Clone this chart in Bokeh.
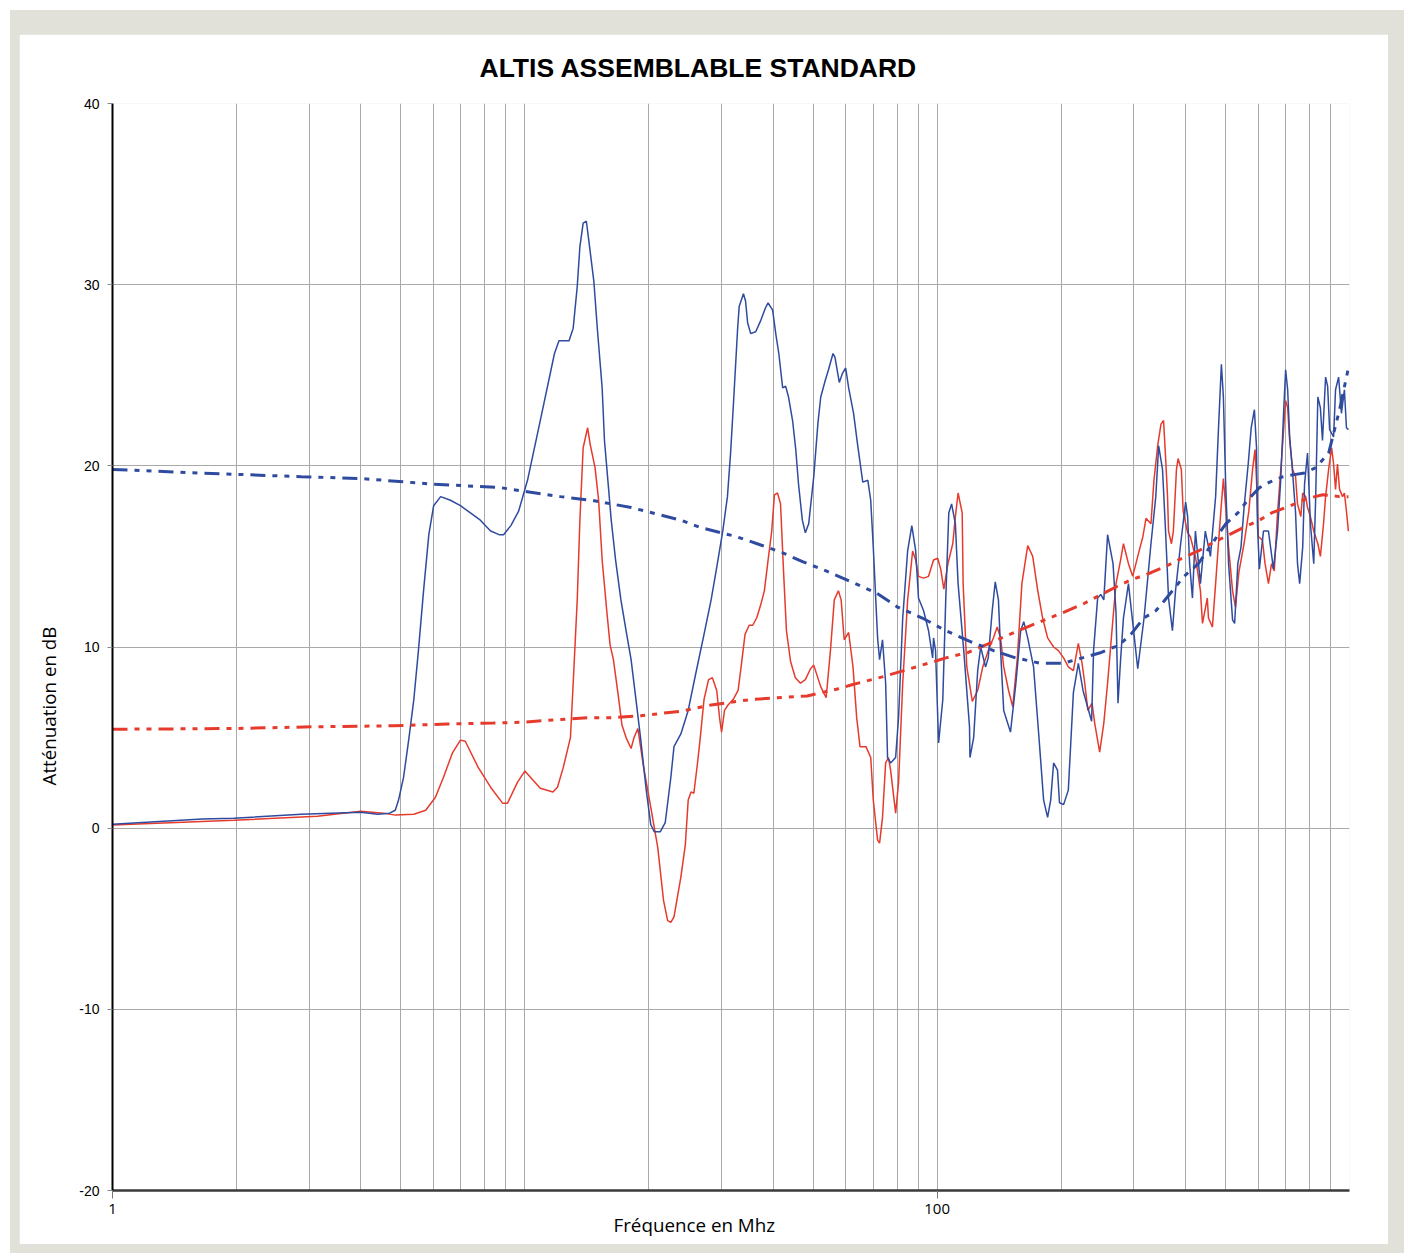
import math
from bokeh.plotting import figure
from bokeh.models import Range1d, FixedTicker, Title
from bokeh.layouts import column
from bokeh.embed import file_html
from bokeh.resources import INLINE

# ---------------- data (frequency in MHz, attenuation in dB) ----------------
blue_freq = [1, 1.65, 1.97, 2.87, 4.0, 4.4, 4.7, 4.85, 4.94, 5.08, 5.23, 5.38, 5.52, 5.68, 5.85,
             6.01, 6.25, 6.6, 6.98, 7.38, 7.8, 8.26, 8.66, 8.88, 9.25, 9.66, 10.15, 10.9, 11.8, 12.1,
             12.8, 13.1, 13.4, 13.6, 13.85, 14.1, 14.3, 14.7, 15.0, 15.4, 15.6, 15.9, 16.2, 16.6, 17.1,
             17.6, 18.1, 18.6, 19.1, 19.7, 20.2, 20.6, 21.3, 21.9, 22.6, 23.0, 23.9, 24.9, 25.9, 27.2,
             28.3, 29.2, 30.2, 31.0, 31.55, 32.07, 32.4, 32.8, 33.1, 33.9, 34.3, 34.7, 35.3, 36.3, 37.3,
             38.3, 38.9, 39.9, 40.6, 41.3, 42.2, 42.9, 43.6, 44.6, 45.4, 46.1, 47.1, 47.9, 48.8, 50.2,
             51.4, 52.2, 53.5, 54.5, 55.9, 56.5, 57.9, 58.9, 60.0, 61.0, 62.7, 64.1, 66.0, 67.9, 69.0,
             70.0, 71.7, 72.5, 73.7, 75.0, 75.8, 77.1, 79.3, 80.6, 82.5, 84.8, 86.8, 88.7, 90.1, 92.7,
             95.3, 97.5, 98.0, 99.1, 100.8, 103.2, 104.9, 106.7, 108.4, 110.7, 112.4, 116.0, 119.8, 120.1,
             122.6, 125.4, 127.5, 131.0, 133.0, 136.0, 138.3, 140.8, 142.5, 145.0, 150.6, 155.2, 159.4,
             162.2, 165.8, 171.3, 176.3, 181.2, 185.3, 188.5, 191.6, 195.8, 198.0, 202.6, 208.0, 214.0,
             220.0, 225.8, 231.6, 236.9, 239.5, 245.0, 249.3, 253.6, 259.0, 267.0, 271.5, 274.5, 278.5,
             283.0, 291.0, 299.5, 306.5, 317.5, 330.0, 339.0, 344.5, 352.0, 358.0, 364.0, 372.0, 378.5,
             389.5, 400.5, 405.0, 409.5, 416.0, 423.0, 435.0, 447.0, 460.0, 473.5, 481.0, 489.0, 494.5,
             500.5, 509.0, 520.5, 526.5, 536.0, 545.5, 555.0, 568.0, 577.5, 588.0, 595.0, 598.0, 604.5,
             618.5, 636.0, 654.0, 669.0, 681.0, 692.0, 700.0, 708.0, 716.0, 728.0, 740.0, 748.0, 757.0,
             770.0, 778.0, 791.0, 804.0, 819.0, 828.0, 838.0, 850.0, 860.0, 875.0, 885.0, 895.0, 915.0,
             925.0, 941.0, 956.0, 972.0, 983.0, 994.0]
blue_db = [0.22, 0.50, 0.55, 0.77, 0.88, 0.77, 0.83, 0.99, 1.55, 2.8, 4.9, 7.1, 9.8, 13.1, 16.2,
           17.8, 18.3, 18.1, 17.8, 17.4, 17.0, 16.4, 16.2, 16.2, 16.7, 17.5, 19.2, 22.5, 26.2, 26.9,
           26.9, 27.6, 29.9, 32.1, 33.4, 33.5, 32.4, 30.2, 27.5, 24.3, 21.4, 19.2, 17.0, 14.8, 12.6,
           10.9, 9.3, 7.1, 4.9, 2.1, 0.2, -0.2, -0.2, 0.3, 2.8, 4.5, 5.2, 6.5, 8.4, 10.7,
           12.6, 14.4, 16.4, 18.3, 20.7, 23.5, 25.3, 27.5, 28.8, 29.5, 29.1, 27.9, 27.3, 27.4, 28.0,
           28.7, 29.0, 28.6, 27.3, 26.2, 24.3, 24.4, 23.8, 22.5, 20.9, 19.0, 17.0, 16.3, 16.8, 19.4,
           22.4, 23.8, 24.7, 25.3, 26.2, 26.0, 24.6, 25.1, 25.4, 24.3, 22.9, 21.2, 19.1, 19.2, 18.1,
           15.5, 10.5, 9.3, 10.4, 8.0, 3.9, 3.6, 3.9, 6.1, 11.6, 15.3, 16.7, 15.3, 12.7, 12.0,
           10.9, 9.4, 10.5, 9.8, 4.7, 7.1, 12.6, 17.4, 17.9, 16.8, 13.5, 9.8, 5.6, 3.9,
           5.0, 8.7, 10.0, 8.9, 9.4, 12.0, 13.6, 12.6, 9.8, 6.5, 5.3, 8.0, 10.9,
           11.4, 10.5, 8.9, 5.2, 1.55, 0.6, 1.55, 3.6, 3.2, 1.4, 1.3, 2.1, 7.5,
           9.1, 7.6, 6.7, 5.9, 9.8, 12.7, 12.9, 12.6, 16.2, 14.6, 11.9, 6.9, 9.3,
           11.6, 13.5, 10.9, 8.8, 11.6, 15.7, 18.3, 21.1, 19.8, 16.4, 12.7, 10.9, 13.1,
           15.7, 18.0, 17.2, 14.6, 12.7, 16.4, 13.5, 16.4, 15.0, 18.3, 22.0, 25.6, 23.8,
           19.2, 14.6, 11.5, 11.3, 14.6, 15.5, 17.7, 20.1, 22.1, 23.1, 21.0, 16.8, 14.3,
           16.4, 16.4, 14.3, 16.4, 19.2, 22.9, 25.3, 24.2, 21.6, 19.6, 17.4, 14.6, 13.5,
           15.5, 19.0, 20.7, 16.8, 14.6, 18.3, 23.8, 23.2, 21.4, 24.9, 24.4, 22.0, 21.6,
           24.2, 24.9, 22.9, 24.2, 22.1, 22.0]

red_freq = [1, 1.97, 3.14, 4.0, 4.54, 4.85, 5.38, 5.75, 6.07, 6.35, 6.67, 6.98, 7.17, 7.7, 8.26,
            8.83, 9.08, 9.6, 10.0, 10.9, 11.7, 12.0, 12.4, 12.9, 13.1, 13.4, 13.6, 13.85, 14.2, 14.4,
            14.8, 15.1, 15.4, 15.8, 16.1, 16.4, 16.9, 17.2, 17.6, 18.1, 18.4, 18.8, 19.4, 20.2, 21.0,
            21.7, 22.2, 22.6, 23.0, 23.9, 24.5, 24.9, 25.3, 25.7, 26.2, 26.6, 27.2, 27.9, 28.5, 29.2,
            29.7, 30.0, 30.5, 31.1, 32.0, 32.9, 33.5, 34.2, 35.0, 35.7, 36.5, 37.3, 38.1, 38.9, 39.7,
            40.3, 41.0, 41.7, 42.4, 43.1, 44.1, 45.3, 46.6, 47.9, 49.3, 50.2, 52.2, 53.8, 55.1, 56.3,
            57.6, 58.5, 59.5, 61.0, 62.5, 63.8, 65.0, 67.2, 69.0, 70.0, 71.7, 72.5, 73.7, 75.0, 76.2,
            77.1, 79.3, 80.6, 82.5, 84.8, 87.2, 88.7, 90.1, 92.7, 95.3, 98.0, 100.3, 102.0, 103.8, 106.2,
            109.1, 110.7, 112.4, 115.0, 115.6, 118.0, 121.7, 125.4, 129.0, 133.0, 136.9, 139.8, 142.5,
            145.0, 149.0, 152.5, 156.5, 160.5, 165.8, 170.5, 175.4, 180.2, 185.3, 191.6, 196.8, 202.6,
            208.0, 214.0, 220.0, 224.6, 228.0, 232.0, 237.5, 241.0, 247.8, 253.6, 259.0, 267.0, 271.5,
            278.5, 283.0, 291.0, 298.0, 306.5, 315.5, 321.0, 330.0, 335.5, 343.0, 349.0, 354.0, 358.0,
            362.0, 364.0, 370.0, 374.0, 380.5, 384.0, 391.0, 395.0, 405.0, 411.0, 423.0, 435.0, 440.0,
            452.0, 455.0, 465.0, 473.5, 481.0, 489.0, 494.5, 503.0, 509.0, 520.5, 529.0, 539.0, 555.0,
            570.0, 582.0, 590.0, 595.0, 601.0, 615.0, 624.0, 636.0, 647.0, 657.0, 669.0, 685.0, 700.0,
            708.0, 716.0, 728.0, 740.0, 748.0, 762.0, 770.0, 783.0, 791.0, 804.0, 819.0, 838.0, 850.0,
            865.0, 875.0, 890.0, 905.0, 915.0, 925.0, 935.0, 946.0, 962.0, 972.0, 983.0, 994.0]
red_db = [0.17, 0.44, 0.66, 0.94, 0.83, 0.72, 0.77, 0.99, 1.71, 2.81, 4.14, 4.86, 4.8, 3.37, 2.26,
          1.38, 1.38, 2.54, 3.15, 2.2, 2.0, 2.26, 3.37, 5.0, 8.0, 12.6, 17.0, 21.0, 22.1, 21.2,
          19.9, 18.1, 14.8, 12.0, 10.1, 9.3, 7.1, 5.7, 5.0, 4.4, 5.0, 5.5, 3.4, 1.16, -1.05,
          -4.0, -5.1, -5.2, -4.9, -2.7, -0.94, 1.55, 2.0, 1.93, 3.5, 4.86, 7.1, 8.2, 8.3, 7.6,
          6.0, 5.3, 6.5, 6.8, 7.1, 7.6, 9.0, 10.7, 11.2, 11.2, 11.6, 12.3, 13.1, 14.8, 16.4,
          18.4, 18.5, 17.9, 14.2, 10.9, 9.2, 8.3, 8.0, 8.2, 8.8, 9.0, 7.8, 7.2, 9.8, 12.6,
          13.1, 12.6, 10.4, 10.8, 8.9, 6.1, 4.5, 4.5, 3.9, 1.55, -0.66, -0.83, 0.6, 3.6, 3.9,
          3.2, 0.83, 2.5, 8.0, 12.6, 15.3, 14.8, 13.9, 13.8, 13.9, 14.8, 14.9, 14.3, 13.2, 14.6,
          15.7, 17.2, 18.5, 17.4, 13.5, 8.9, 7.0, 7.6, 8.9, 9.8, 10.5, 11.1, 10.5,
          8.9, 7.6, 6.7, 9.4, 13.5, 15.6, 15.0, 13.1, 11.6, 10.5, 10.0, 9.8, 9.4,
          8.9, 8.7, 10.2, 9.1, 8.0, 6.5, 6.9, 5.8, 4.2, 5.8, 8.0, 11.6, 13.5,
          14.8, 15.7, 14.6, 13.9, 15.0, 16.1, 17.1, 16.8, 19.2, 21.2, 22.3, 22.5, 20.5,
          18.3, 16.4, 15.7, 16.4, 19.8, 20.4, 19.8, 17.5, 16.3, 16.1, 15.0, 13.1, 11.3,
          12.7, 11.6, 11.1, 13.5, 15.7, 17.9, 19.3, 17.2, 15.5, 13.1, 12.2, 14.1, 15.7,
          17.5, 19.8, 20.9, 19.2, 16.1, 15.9, 14.6, 13.5, 14.6, 14.2, 17.4, 20.5, 23.6,
          23.2, 21.4, 19.8, 19.4, 17.9, 17.2, 18.5, 18.3, 17.7, 17.2, 16.4, 15.7, 15.0,
          16.8, 18.3, 19.8, 21.0, 20.1, 18.7, 20.1, 18.7, 18.3, 18.5, 17.5, 16.4]

blue_trend_freq = [1, 1.65, 2.87, 4.0, 5.9, 8.7, 12.2, 14.5, 18.1, 23.9, 26.6, 32.5, 36.6, 42.2, 47.3,
                   53.8, 61.8, 71.0, 80.2, 92.0, 105.0, 120.4, 137.0, 155.0, 178.0, 202.0, 225.0, 250.0,
                   276.0, 295.0, 317.0, 339.0, 354.0, 397.0, 430.0, 501.0, 536.0, 566.0, 605.0, 640.0,
                   690.0, 728.0, 778.0, 828.0, 890.0, 946.0, 977.0, 994.0]
blue_trend_db = [19.8, 19.6, 19.4, 19.3, 19.0, 18.8, 18.3, 18.1, 17.7, 17.0, 16.6, 16.1, 15.7, 15.2, 14.7,
                 14.2, 13.6, 13.0, 12.2, 11.6, 10.9, 10.3, 9.8, 9.4, 9.1, 9.1, 9.4, 9.7,
                 10.1, 10.7, 11.6, 12.0, 12.5, 13.9, 14.6, 16.8, 17.4, 18.1, 18.8, 19.1,
                 19.4, 19.5, 19.6, 19.9, 20.7, 23.1, 24.6, 25.4]

red_trend_freq = [1, 1.97, 3.14, 4.8, 6.5, 8.4, 9.9, 12.2, 14.2, 16.4, 19.1, 21.7, 23.9, 28.3, 35.3,
                  48.4, 57.6, 61.8, 75.0, 86.0, 105.0, 119.0, 137.0, 150.0, 178.0, 202.0, 227.0, 250.0,
                  276.0, 295.0, 330.0, 362.0, 384.0, 430.0, 470.0, 501.0, 554.0, 605.0, 647.0, 720.0,
                  791.0, 861.0, 946.0, 994.0]
red_trend_db = [5.46, 5.5, 5.6, 5.65, 5.75, 5.8, 5.85, 6.0, 6.1, 6.1, 6.2, 6.35, 6.45, 6.8, 7.1,
                7.3, 7.7, 7.9, 8.4, 8.8, 9.4, 9.7, 10.3, 10.7, 11.4, 11.9, 12.4, 12.9,
                13.4, 13.7, 14.1, 14.5, 14.8, 15.3, 15.8, 16.1, 16.6, 17.0, 17.4, 17.8,
                18.2, 18.4, 18.3, 18.3]

x_major_ticks = [1, 100]
x_minor_ticks = [2, 3, 4, 5, 6, 7, 8, 9, 10, 20, 30, 40, 50, 60, 70, 80, 90,
                 200, 300, 400, 500, 600, 700, 800, 900, 1000]
y_ticks = [-20, -10, 0, 10, 20, 30, 40]
y_tick_labels = ["-20", "-10", "0", "10", "20", "30", "40"]

title_text = "ALTIS ASSEMBLABLE STANDARD"
x_label = "Fréquence en Mhz"
y_label = "Atténuation en dB"

BLUE = "#2f4b9f"
RED = "#e63b2c"
GRID = "#a9a9a9"

# ---------------- figure ----------------
p = figure(width=1369, height=1210, x_axis_type="log",
           x_range=Range1d(1, 1000), y_range=Range1d(-20, 40),
           output_backend="svg", toolbar_location=None,
           min_border_left=93, min_border_right=39, min_border_top=69, min_border_bottom=54,
           background_fill_color="white", border_fill_color="white", outline_line_color=None)

# main title (above, left aligned with pixel offset from the frame's left edge)
p.title.text = title_text
p.title.align = "left"
p.title.vertical_align = "top"
p.title.offset = 367
p.title.standoff = 37
p.title.text_font = "Liberation Sans"
p.title.text_font_style = "bold"
p.title.text_font_size = "26.5px"
p.title.text_color = "black"

xt = FixedTicker(ticks=x_major_ticks, minor_ticks=x_minor_ticks)
yt = FixedTicker(ticks=y_ticks)
p.xaxis.ticker = xt
p.yaxis.ticker = yt
p.xgrid.ticker = xt
p.ygrid.ticker = yt
p.xaxis.major_label_overrides = {1: "1", 100: "100"}
p.yaxis.major_label_overrides = dict(zip(y_ticks, y_tick_labels))

p.xgrid.grid_line_color = GRID
p.xgrid.minor_grid_line_color = GRID
p.ygrid.grid_line_color = GRID

p.yaxis.axis_line_color = "black"
p.yaxis.axis_line_width = 2
p.yaxis.major_tick_out = 5
p.yaxis.major_tick_in = 0
p.yaxis.major_tick_line_color = "#888888"
p.yaxis.minor_tick_line_color = None
p.yaxis.major_label_text_font = "Liberation Sans"
p.yaxis.major_label_text_font_size = "14px"
p.yaxis.major_label_text_color = "black"
p.yaxis.major_label_standoff = 8

p.xaxis.axis_line_color = "#3a3a3a"
p.xaxis.axis_line_width = 2.5
p.xaxis.major_tick_out = 8
p.xaxis.major_tick_in = 0
p.xaxis.major_tick_line_color = "#777777"
p.xaxis.minor_tick_line_color = None
p.xaxis.major_label_text_font = "Open Sans"
p.xaxis.major_label_text_font_size = "15px"
p.xaxis.major_label_text_color = "black"
p.xaxis.major_label_standoff = 5

# axis titles as side titles so they can be shifted along the frame
p.add_layout(Title(text=x_label, align="left", offset=501, standoff=-14,
                   text_font="Open Sans", text_font_size="18.8px", text_font_style="normal",
                   text_color="black"), "below")
p.add_layout(Title(text=y_label, align="left", offset=405, standoff=29,
                   text_font="Open Sans", text_font_size="18.8px", text_font_style="normal",
                   text_color="black"), "left")

# measured curves
p.line(red_freq, red_db, line_color=RED, line_width=1.5)
p.line(blue_freq, blue_db, line_color=BLUE, line_width=1.5)
# trend curves
p.line(red_trend_freq, red_trend_db, line_color=RED, line_width=3, line_dash="15 7 5 7 5 7")
p.line(blue_trend_freq, blue_trend_db, line_color=BLUE, line_width=3, line_dash="15 7 5 7 5 7")

layout = column(p, styles={"background-color": "#e1e1d9", "padding": "24px 16px 9px 9px",
                           "margin-left": "10px", "margin-top": "10px"})

open("out.html", "w").write(file_html(layout, INLINE))
